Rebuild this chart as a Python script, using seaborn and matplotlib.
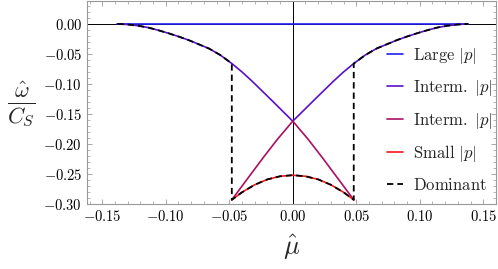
import matplotlib

matplotlib.use("Agg")

import matplotlib.pyplot as plt
import pandas as pd
import seaborn as sns
from matplotlib.ticker import FuncFormatter, MultipleLocator


# values
large_mu = [-0.138, 0.138]
large_omega = [0.0, 0.0]

interm1_mu = [
    -0.138, -0.130, -0.122, -0.114, -0.106, -0.098, -0.090, -0.082,
    -0.074, -0.066, -0.057, -0.048, -0.040, -0.032, -0.024, -0.016,
    -0.008, 0.0,
    0.008, 0.016, 0.024, 0.032, 0.040, 0.048, 0.057, 0.066, 0.074,
    0.082, 0.090, 0.098, 0.106, 0.114, 0.122, 0.130, 0.138,
]
interm1_omega = [
    0.0, -0.001, -0.003, -0.006, -0.0105, -0.0155, -0.021, -0.027,
    -0.034, -0.041, -0.052, -0.066, -0.080, -0.0955, -0.112, -0.1285,
    -0.1453, -0.162,
    -0.1453, -0.1285, -0.112, -0.0955, -0.080, -0.066, -0.052, -0.041,
    -0.034, -0.027, -0.021, -0.0155, -0.0105, -0.006, -0.003, -0.001, 0.0,
]

interm2_mu = [-0.048, -0.035, -0.023, -0.012, 0.0, 0.012, 0.023, 0.035, 0.048]
interm2_omega = [
    -0.293, -0.256, -0.222, -0.192, -0.162, -0.192, -0.222, -0.256, -0.293,
]

small_mu = [
    -0.048, -0.040, -0.030, -0.020, -0.010, 0.0,
    0.010, 0.020, 0.030, 0.040, 0.048,
]
small_omega = [
    -0.293, -0.2805, -0.268, -0.259, -0.2538, -0.252,
    -0.2538, -0.259, -0.268, -0.2805, -0.293,
]

dominant_mu = [
    -0.138, -0.130, -0.122, -0.114, -0.106, -0.098, -0.090, -0.082,
    -0.074, -0.066, -0.057, -0.048,
    -0.048, -0.040, -0.030, -0.020, -0.010, 0.0,
    0.010, 0.020, 0.030, 0.040, 0.048,
    0.048, 0.057, 0.066, 0.074, 0.082, 0.090, 0.098, 0.106, 0.114,
    0.122, 0.130, 0.138,
]
dominant_omega = [
    0.0, -0.001, -0.003, -0.006, -0.0105, -0.0155, -0.021, -0.027,
    -0.034, -0.041, -0.052, -0.066,
    -0.293, -0.2805, -0.268, -0.259, -0.2538, -0.252,
    -0.2538, -0.259, -0.268, -0.2805, -0.293,
    -0.066, -0.052, -0.041, -0.034, -0.027, -0.021, -0.0155, -0.0105,
    -0.006, -0.003, -0.001, 0.0,
]

series_labels = [
    r"$\mathrm{Large}\ |p|$",
    r"$\mathrm{Interm.}\ |p|$",
    r"$\mathrm{Interm.}\ |p|$",
    r"$\mathrm{Small}\ |p|$",
    r"$\mathrm{Dominant}$",
]
series_colors = ["#2020f0", "#5a10c8", "#aa1060", "#f01818", "black"]

x_ticks = [-0.15, -0.10, -0.05, 0.0, 0.05, 0.10, 0.15]
y_ticks = [0.0, -0.05, -0.10, -0.15, -0.20, -0.25, -0.30]


def math_label(value, _pos=None):
    value = round(value, 4)
    if value == 0:
        value = 0.0
    return rf"${value:.2f}$"


sns.set_style("ticks")
plt.rcParams["mathtext.fontset"] = "cm"
plt.rcParams["font.family"] = ["DejaVu Serif"]

fig = plt.figure(figsize=(4.98, 2.69), dpi=100)
ax = fig.add_axes([0.1747, 0.2416, 0.8213, 0.7544])

series = [
    (large_mu, large_omega),
    (interm1_mu, interm1_omega),
    (interm2_mu, interm2_omega),
    (small_mu, small_omega),
]

for (mu, omega), label, color in zip(series, series_labels, series_colors):
    frame = pd.DataFrame({"mu": mu, "omega": omega})
    sns.lineplot(
        data=frame,
        x="mu",
        y="omega",
        color=color,
        linewidth=1.2,
        estimator=None,
        sort=False,
        label=label,
        ax=ax,
        zorder=3,
    )

dominant = pd.DataFrame({"mu": dominant_mu, "omega": dominant_omega})
sns.lineplot(
    data=dominant,
    x="mu",
    y="omega",
    color="black",
    linewidth=1.3,
    linestyle=(0, (3.5, 2.2)),
    estimator=None,
    sort=False,
    label=series_labels[4],
    ax=ax,
    zorder=4,
)

ax.axhline(0, color="black", linewidth=0.7, zorder=1)
ax.axvline(0, color="black", linewidth=0.7, zorder=1)

ax.set_xlim(-0.162, 0.160)
ax.set_ylim(-0.30, 0.038)

ax.set_xticks(x_ticks)
ax.set_yticks(y_ticks)
ax.xaxis.set_minor_locator(MultipleLocator(0.01))
ax.yaxis.set_minor_locator(MultipleLocator(0.01))
ax.xaxis.set_major_formatter(FuncFormatter(math_label))
ax.yaxis.set_major_formatter(FuncFormatter(math_label))

ax.tick_params(
    which="both", direction="in", top=True, right=True,
    color="#999999", labelsize=10.5, labelcolor="black",
)
ax.tick_params(which="major", length=3.5, width=0.6)
ax.tick_params(which="minor", length=2, width=0.5)

for spine in ax.spines.values():
    spine.set_color("#999999")
    spine.set_linewidth(0.8)

ax.set_xlabel(r"$\hat{\mu}$", fontsize=19, labelpad=6)
ax.set_ylabel(r"$\frac{\hat{\omega}}{C_S}$", fontsize=23, rotation=0, va="center")
ax.yaxis.set_label_coords(-0.16, 0.49)

ax.legend(
    loc="center left",
    bbox_to_anchor=(0.712, 0.415),
    frameon=False,
    fontsize=12,
    handlelength=1.0,
    handletextpad=0.6,
    labelspacing=0.75,
    borderpad=0,
)

fig.savefig("out.png", dpi=100)
